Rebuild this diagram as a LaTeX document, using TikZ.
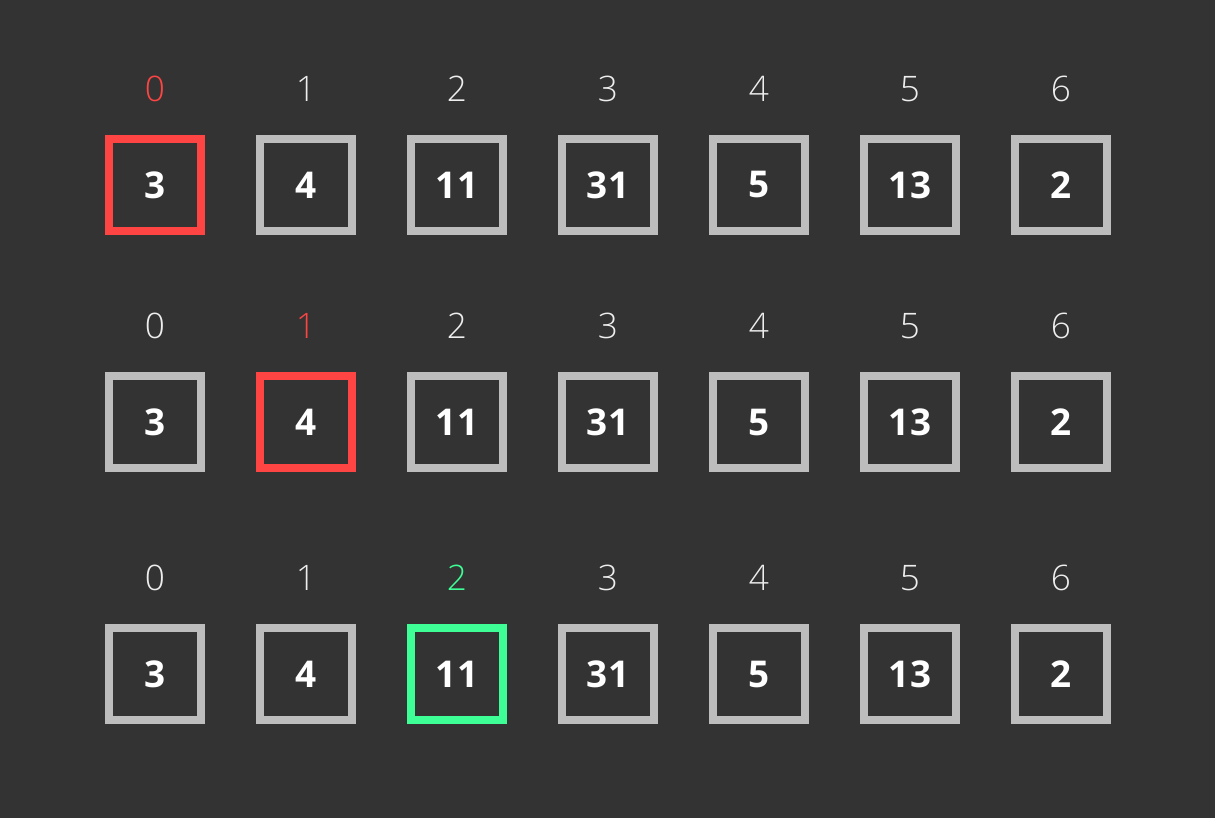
\documentclass[tikz,border=0pt]{standalone}
\usepackage{fontspec}
\setmainfont{Open Sans}
\newfontfamily\lightfont{Open Sans Light}
\usetikzlibrary{positioning}
\definecolor{bgdark}{HTML}{333333}
\definecolor{cellgray}{HTML}{BDBDBD}
\definecolor{hotred}{HTML}{FF4444}
\definecolor{hitgreen}{HTML}{3DFF95}
\definecolor{idxwhite}{HTML}{EEEEEE}
\tikzset{
 cell/.style={rectangle,draw=cellgray,line width=0.16cm,minimum size=1.84cm,
   inner sep=0pt,text=white,font=\fontsize{21}{21}\selectfont\bfseries},
 idx/.style={inner sep=0pt,text=idxwhite,font=\fontsize{20}{20}\selectfont\lightfont}}
\begin{document}
\begin{tikzpicture}
  \fill[bgdark] (0,0) rectangle (24.3,-16.36);
  % one row per step: row, y, highlighted index, its colour
  \foreach \r/\y/\hl/\hc in {1/-3.7/0/hotred,2/-8.44/1/hotred,3/-13.48/2/hitgreen}{
    \foreach \v [count=\c from 0] in {3,4,11,31,5,13,2}{
      \pgfmathsetmacro\x{3.1+3.02*\c}
      \ifnum\c=\hl \def\cc{\hc}\else\def\cc{cellgray}\fi
      \ifnum\c=\hl \def\tc{\hc}\else\def\tc{idxwhite}\fi
      \node[cell,draw=\cc] (b\r-\c) at (\x,\y) {\v};
      \node[idx,text=\tc] (i\r-\c) at (\x,\y+1.92) {\c};
    }
  }
\end{tikzpicture}
\end{document}
